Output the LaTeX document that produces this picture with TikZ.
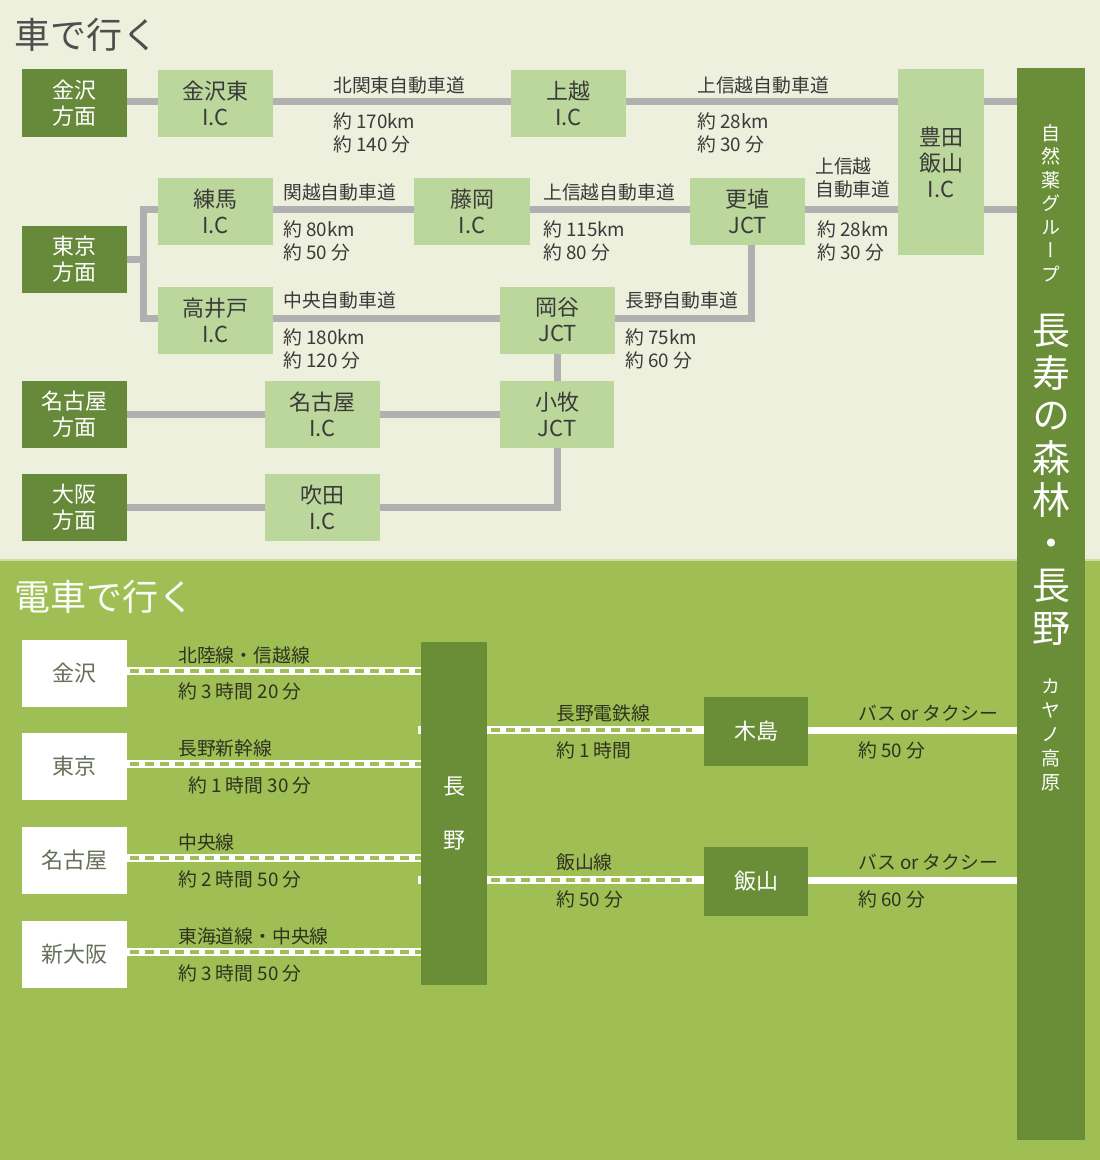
\documentclass[tikz,border=0pt]{standalone}
\usepackage{fontspec}
\setmainfont{Noto Sans CJK JP}
\newfontfamily\jpv[RawFeature=+vert]{Noto Sans CJK JP}
\newcommand\myfs[2]{\fontsize{#1}{#2}\selectfont}
\definecolor{topbg}{HTML}{EDF0DC}
\definecolor{botbg}{HTML}{9FBF55}
\definecolor{dg}{HTML}{66893A}
\definecolor{lg}{HTML}{BCD79C}
\definecolor{rd}{HTML}{B0B0B0}
\definecolor{tx}{HTML}{3A3A3A}
\definecolor{bartx}{HTML}{6A8E37}
\definecolor{wtx}{HTML}{66705A}
\definecolor{btx}{HTML}{2E3320}
\pgfdeclarelayer{bg}
\pgfsetlayers{bg,main}
\tikzset{
  dbox/.style={fill=dg, text=white, inner sep=0pt, align=center, font=\myfs{22}{26}},
  lbox/.style={fill=lg, text=tx, inner sep=0pt, align=center, font=\myfs{22}{26}},
  wbox/.style={fill=white, text=wtx, inner sep=0pt, align=center, font=\myfs{22}{26},
    minimum width=105pt, minimum height=67pt},
  gbox/.style={fill=bartx, text=white, inner sep=0pt, align=center, font=\myfs{22}{26}},
  homen/.style={dbox, minimum width=105pt, minimum height=68pt},
  icb/.style={lbox, minimum width=115pt, minimum height=67pt},
  road/.style={draw=rd, line width=7pt},
  lab/.style={anchor=west, inner sep=0pt, text=tx, font=\myfs{18.8}{23}, align=left},
  blab/.style={anchor=west, inner sep=0pt, text=btx, font=\myfs{18.8}{23}, align=left},
  railw/.style={draw=white, line width=8pt},
  railg/.style={draw=botbg, line width=3.2pt, dash pattern=on 9pt off 6pt},
  bus/.style={draw=white, line width=7pt},
  vtxt/.style={text=white, inner sep=0pt, align=center}
}
\begin{document}
\begin{tikzpicture}[x=1pt,y=-1pt]
\useasboundingbox (0,0) rectangle (1100,1160);
\begin{pgfonlayer}{bg}
\fill[topbg] (0,0) rectangle (1100,560);
\fill[botbg] (0,560) rectangle (1100,1160);
\draw[color=topbg!60!botbg, line width=1.5pt] (0,560) -- (1100,560);
\end{pgfonlayer}

% titles
\node[anchor=west, inner sep=0pt, text=tx!90, font=\myfs{36}{40}] (t1) at (14,35) {車で行く};
\node[anchor=west, inner sep=0pt, text=white!95!botbg, font=\myfs{36}{40}] (t2) at (14,597) {電車で行く};

% right bar
\node[fill=bartx, minimum width=68pt, minimum height=1072pt, inner sep=0pt] (bar) at (1051,604) {};
\node[vtxt, font=\jpv\myfs{19}{23.5}] (v1) at (1051,203) {自\\然\\薬\\グ\\ル\\ー\\プ};
\node[vtxt, font=\jpv\myfs{38}{42.5}] (v2) at (1051,480) {長\\寿\\の\\森\\林\\・\\長\\野};
\node[vtxt, font=\jpv\myfs{19}{24}] (v3) at (1051,735) {カ\\ヤ\\ノ\\高\\原};

% car section boxes
\node[homen] (kzh) at (74.5,103) {金沢\\方面};
\node[icb] (kze) at (215.5,103) {金沢東\\I.C};
\node[icb] (jo) at (568.5,103) {上越\\I.C};
\node[lbox, minimum width=86pt, minimum height=186pt] (ty) at (941,162) {豊田\\飯山\\I.C};
\node[homen, minimum height=67pt] (tkh) at (74.5,259.5) {東京\\方面};
\node[icb] (ne) at (215.5,211.5) {練馬\\I.C};
\node[icb, minimum width=116pt] (fu) at (472,211.5) {藤岡\\I.C};
\node[icb] (ko) at (747.5,211.5) {更埴\\JCT};
\node[icb] (ta) at (215.5,320) {高井戸\\I.C};
\node[icb] (ok) at (557.5,320) {岡谷\\JCT};
\node[homen, minimum height=67pt] (ngh) at (74.5,414.5) {名古屋\\方面};
\node[icb] (ngi) at (322.5,414.5) {名古屋\\I.C};
\node[icb, minimum width=114pt] (km) at (557,414.5) {小牧\\JCT};
\node[homen, minimum height=67pt] (osh) at (74.5,507.5) {大阪\\方面};
\node[icb] (su) at (322.5,507.5) {吹田\\I.C};
\coordinate (tj) at (143,259.5);

\begin{pgfonlayer}{bg}
\draw[road] ([yshift=1.5pt]kzh.east) -- ([yshift=1.5pt]kze.west);
\draw[road] ([yshift=1.5pt]kze.east) -- ([yshift=1.5pt]jo.west);
\draw[road] ([yshift=1.5pt]jo.east) -- ([yshift=1.5pt]jo.east -| ty.west);
\draw[road] ([yshift=1.5pt]jo.east -| ty.east) -- ([yshift=1.5pt]jo.east -| bar.west);
\draw[road] (tkh.east) -- (tj);
\draw[road] ([yshift=2pt]ne.west) -| (tj) |- ([yshift=2pt]ta.west);
\draw[road] ([yshift=2pt]ne.east) -- ([yshift=2pt]fu.west);
\draw[road] ([yshift=2pt]fu.east) -- ([yshift=2pt]ko.west);
\draw[road] ([yshift=2pt]ko.east) -- ([yshift=2pt]ko.east -| ty.west);
\draw[road] ([yshift=2pt]ko.east -| ty.east) -- ([yshift=2pt]ko.east -| bar.west);
\draw[road] ([yshift=2pt]ta.east) -- ([yshift=2pt]ok.west);
\draw[road] ([xshift=4pt]ko.south) |- ([yshift=2pt]ok.east);
\draw[road] (ok.south) -- (ok.south |- km.north);
\draw[road] (ngh.east) -- (ngi.west);
\draw[road] (ngi.east) -- (km.west);
\draw[road] (osh.east) -- (su.west);
\draw[road] (su.east) -| (km.south);
\end{pgfonlayer}

% car labels
\node[lab] (l1) at (333,85) {北関東自動車道};
\node[lab] (l1b) at (333,132.5) {約 170km\\約 140 分};
\node[lab] (l2) at (697,85) {上信越自動車道};
\node[lab] (l2b) at (697,132.5) {約 28km\\約 30 分};
\node[lab] (l3) at (283,192) {関越自動車道};
\node[lab] (l3b) at (283,240.5) {約 80km\\約 50 分};
\node[lab] (l4) at (543,192) {上信越自動車道};
\node[lab] (l4b) at (543,240.5) {約 115km\\約 80 分};
\node[lab] (l5) at (815,177.5) {上信越\\自動車道};
\node[lab] (l5b) at (817,240.5) {約 28km\\約 30 分};
\node[lab] (l6) at (283,300) {中央自動車道};
\node[lab] (l6b) at (283,348.5) {約 180km\\約 120 分};
\node[lab] (l7) at (625,300) {長野自動車道};
\node[lab] (l7b) at (625,348.5) {約 75km\\約 60 分};

% train section
\node[wbox] (tk) at (74.5,673.5) {金沢};
\node[wbox] (tt) at (74.5,766.5) {東京};
\node[wbox] (tn) at (74.5,860.5) {名古屋};
\node[wbox] (ts) at (74.5,954.5) {新大阪};
\node[gbox, minimum width=66pt, minimum height=343pt, font=\myfs{22}{54}] (na) at (454,813.5) {長\\野};
\node[gbox, minimum width=104pt, minimum height=69pt] (ki) at (756,731.5) {木島};
\node[gbox, minimum width=104pt, minimum height=69pt] (ii) at (756,881.5) {飯山};

\begin{pgfonlayer}{bg}
\foreach \b in {tk,tt,tn,ts}{
  \draw[railw] ([yshift=2.5pt]\b.east) -- ([yshift=2.5pt]\b.east -| na.west);
  \draw[railg] ([xshift=3pt,yshift=2.5pt]\b.east) -- ([yshift=2.5pt]\b.east -| na.west);
}
\foreach \b in {ki,ii}{
  \draw[railw] ([xshift=-3pt,yshift=1.5pt]\b.west -| na.west) -- ([yshift=1.5pt]\b.west);
  \draw[railg] ([xshift=4pt,yshift=1.5pt]\b.west -| na.east) -- ([xshift=-12pt,yshift=1.5pt]\b.west);
  \draw[bus] ([yshift=1.5pt]\b.east) -- ([yshift=1.5pt]\b.east -| bar.west);
}
\end{pgfonlayer}

\node[blab] (r1) at (178,655) {北陸線・信越線};
\node[blab] (r1b) at (178,691) {約 3 時間 20 分};
\node[blab] (r2) at (178,748) {長野新幹線};
\node[blab] (r2b) at (188,785) {約 1 時間 30 分};
\node[blab] (r3) at (178,842) {中央線};
\node[blab] (r3b) at (178,879) {約 2 時間 50 分};
\node[blab] (r4) at (178,936) {東海道線・中央線};
\node[blab] (r4b) at (178,973) {約 3 時間 50 分};
\node[blab] (r5) at (556,713) {長野電鉄線};
\node[blab] (r5b) at (556,750) {約 1 時間};
\node[blab] (r6) at (858,713) {バス or タクシー};
\node[blab] (r6b) at (858,750) {約 50 分};
\node[blab] (r7) at (556,862) {飯山線};
\node[blab] (r7b) at (556,899) {約 50 分};
\node[blab] (r8) at (858,862) {バス or タクシー};
\node[blab] (r8b) at (858,899) {約 60 分};
\end{tikzpicture}
\end{document}
